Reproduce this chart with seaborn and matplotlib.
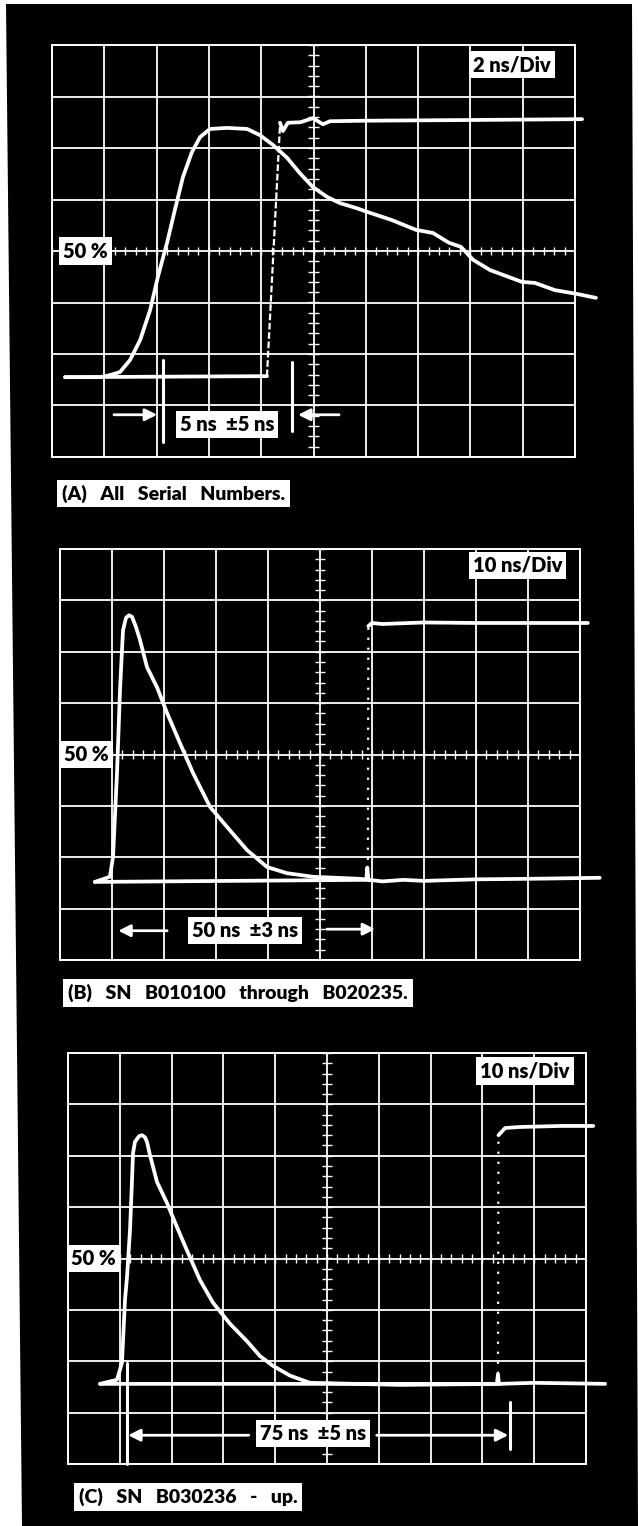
import numpy as np
import matplotlib
matplotlib.use("Agg")
import matplotlib.pyplot as plt
from matplotlib.patches import Polygon
import seaborn as sns

# ---------------- data (time in ns, amplitude in graticule divisions from 50% line) ----
# Panel A : 2 ns/Div
a_pulse_t = [0.5, 1.84, 2.22, 2.60, 2.98, 3.37, 3.75, 4.05, 4.40, 4.70, 5.01, 5.35, 5.66,
             6.04, 6.69, 7.46, 7.95, 8.45, 8.99, 9.48, 9.98, 10.52, 11.01, 11.66, 12.05,
             13.0, 13.92, 14.57, 15.18, 15.64, 16.1, 16.75, 17.97, 18.47, 19.23, 20.04,
             20.8]
a_pulse_v = [-2.45, -2.45, -2.41, -2.35, -2.12, -1.73, -1.15, -0.50, 0.16, 0.80, 1.44,
             1.92, 2.21, 2.37, 2.39, 2.37, 2.25, 2.06, 1.81, 1.51, 1.24, 1.05, 0.93, 0.83,
             0.76, 0.60, 0.41, 0.35, 0.16, 0.08, -0.17, -0.37, -0.60, -0.62, -0.76, -0.83,
             -0.91]
a_base_t = [0.5, 8.22]
a_base_v = [-2.45, -2.43]
a_edge_t = [8.22, 8.72]
a_edge_v = [-2.43, 2.45]
a_top_t = [8.72, 8.83, 9.02, 9.5, 9.98, 10.36, 10.63, 12.0, 15.0, 20.27]
a_top_v = [2.49, 2.33, 2.49, 2.50, 2.58, 2.46, 2.52, 2.53, 2.54, 2.56]

# Panel B : 10 ns/Div
b_pulse_t = [6.7, 9.6, 10.2, 10.96, 11.54, 11.92, 12.12, 12.69, 13.27, 13.85, 14.62,
             15.38, 16.73, 18.65, 20.58, 23.08, 25.58, 28.85, 32.12, 35.96, 39.81, 43.65,
             48.65, 57.69, 62.0, 66.0, 70.0, 80.0, 90.0, 103.8]
b_pulse_v = [-2.48, -2.38, -1.99, -0.36, 1.25, 2.03, 2.42, 2.66, 2.71, 2.68, 2.48, 2.23,
             1.70, 1.31, 0.81, 0.22, -0.36, -1.02, -1.41, -1.86, -2.19, -2.31, -2.38,
             -2.42, -2.47, -2.44, -2.46, -2.43, -2.42, -2.40]
b_base_t = [6.7, 58.9, 59.1, 59.3, 59.5]
b_base_v = [-2.48, -2.44, -2.20, -2.44, -2.45]
b_edge_t = [59.2, 59.3]
b_edge_v = [-2.44, 2.50]
b_top_t = [59.3, 60.0, 62.0, 70.0, 80.0, 90.0, 101.5]
b_top_v = [2.50, 2.56, 2.54, 2.57, 2.56, 2.56, 2.56]

# Panel C : 10 ns/Div
c_pulse_t = [6.2, 9.46, 10.42, 11.0, 11.39, 11.97, 12.36, 12.55, 12.93, 13.7, 14.29,
             14.86, 15.25, 15.83, 16.22, 17.18, 19.11, 21.04, 23.17, 25.48, 27.99, 31.27,
             34.56, 37.07, 39.58, 42.86, 46.72, 64.1, 83.4, 90.0, 103.7]
c_pulse_v = [-2.44, -2.36, -2.03, -0.81, -0.36, 0.55, 1.53, 2.05, 2.27, 2.38, 2.40, 2.36,
             2.27, 2.01, 1.86, 1.49, 1.08, 0.61, 0.11, -0.42, -0.86, -1.27, -1.61, -1.90,
             -2.09, -2.28, -2.42, -2.46, -2.44, -2.42, -2.44]
c_base_t = [6.2, 82.8, 83.0, 83.2, 83.4]
c_base_v = [-2.44, -2.44, -2.25, -2.44, -2.44]
c_edge_t = [83.0, 83.1]
c_edge_v = [-2.44, 2.40]
c_top_t = [83.1, 84.4, 87.3, 95.0, 101.4]
c_top_v = [2.40, 2.54, 2.56, 2.58, 2.58]

time_per_div = [2, 10, 10]
scale_labels = ["2 ns/Div", "10 ns/Div", "10 ns/Div"]
pct_label = "50 %"
span_labels = ["5 ns  \u00b15 ns", "50 ns  \u00b13 ns", "75 ns  \u00b15 ns"]
captions = ["(A)   All   Serial   Numbers.",
            "(B)   SN   B010100   through   B020235.",
            "(C)   SN   B030236   -   up."]

# annotation anchors (ns, div)
span_text_xy = [(6.7, -3.36), (35.5, -3.43), (47.3, -3.40)]
arrow_left = [((2.37, -3.18), (4.02, -3.18)),   # (tail, head)
              ((20.6, -3.43), (11.2, -3.43)),
              ((34.9, -3.44), (11.6, -3.44))]
arrow_right = [((10.98, -3.18), (9.41, -3.18)),
               ((51.3, -3.40), (60.6, -3.40)),
               ((59.6, -3.44), (85.0, -3.44))]
markers = [[(4.24, -2.12, -3.70), (9.18, -2.15, -3.50)],
           [],
           [(11.4, -2.03, -4.0), (85.3, -2.79, -3.71)]]
pct_x = [1.28, 5.1, 4.9]
scale_xy = [(17.6, 3.62), (88.0, 3.68), (88.2, 3.65)]

# ---------------- style ----
sns.set_theme(style="dark")
plt.rcParams["font.family"] = ["Lato", "DejaVu Sans"]
plt.rcParams["font.weight"] = "bold"

W, H = 638, 1526
fig = plt.figure(figsize=(W / 100, H / 100), dpi=100)
fig.patch.set_facecolor("white")
bg = Polygon([[6 / W, 1 - 4 / H], [632 / W, 1 - 4 / H], [638 / W, 0], [22 / W, 0]],
             closed=True, transform=fig.transFigure, facecolor="black",
             edgecolor="none", zorder=-10)
fig.patches.append(bg)

# axes rectangles in pixels: left, right, top, bottom
rects = [(52, 575, 45, 457), (60, 580, 549, 960), (68, 586, 1053, 1464)]
cap_rects = [(57, 480, 507), (63, 980, 1006), (74, 1483, 1511)]

pulses = [(a_pulse_t, a_pulse_v), (b_pulse_t, b_pulse_v), (c_pulse_t, c_pulse_v)]
bases = [(a_base_t, a_base_v), (b_base_t, b_base_v), (c_base_t, c_base_v)]
edges = [(a_edge_t, a_edge_v), (b_edge_t, b_edge_v), (c_edge_t, c_edge_v)]
tops = [(a_top_t, a_top_v), (b_top_t, b_top_v), (c_top_t, c_top_v)]
edge_styles = [(0, (3, 1.2)), (0, (1, 3.5)), (0, (1, 3.5))]

box = dict(boxstyle="square,pad=0.2", facecolor="white", edgecolor="none")
TR = 2.7
FS = 14.5

for i in range(3):
    l, r, t, b = rects[i]
    ax = fig.add_axes([l / W, 1 - b / H, (r - l) / W, (b - t) / H])
    ax.set_facecolor("black")
    nd = time_per_div[i]
    ax.set_xlim(0, 10 * nd)
    ax.set_ylim(-4, 4)
    ax.set_xticks(np.arange(0, 10 * nd + 0.001, nd))
    ax.set_yticks(np.arange(-4, 4.001, 1))
    ax.grid(True, color="white", linewidth=1.3)
    ax.tick_params(length=0, labelbottom=False, labelleft=False)
    for s in ax.spines.values():
        s.set_color("white")
        s.set_linewidth(1.4)
        s.set_visible(True)

    # graticule fine ticks on centre lines
    xc = 5 * nd
    ax.hlines(np.arange(-4, 4.001, 0.2), xc - 0.1 * nd, xc + 0.1 * nd,
              color="white", lw=1.0, zorder=2)
    ax.vlines(np.arange(0, 10 * nd + 0.001, 0.2 * nd), -0.08, 0.08,
              color="white", lw=1.0, zorder=2)

    # traces
    pt, pv = pulses[i]
    sns.lineplot(x=pt, y=pv, ax=ax, color="white", linewidth=TR, sort=False,
                 estimator=None, legend=False, zorder=4)
    bt, bv = bases[i]
    sns.lineplot(x=bt, y=bv, ax=ax, color="white", linewidth=TR, sort=False,
                 estimator=None, legend=False, zorder=4)
    et, ev = edges[i]
    sns.lineplot(x=et, y=ev, ax=ax, color="white", linewidth=1.6, sort=False,
                 estimator=None, legend=False, linestyle=edge_styles[i], zorder=4)
    tt, tv = tops[i]
    sns.lineplot(x=tt, y=tv, ax=ax, color="white", linewidth=TR, sort=False,
                 estimator=None, legend=False, zorder=4)
    for ln in ax.lines:
        ln.set_clip_on(False)
        ln.set_solid_capstyle("round")
        ln.set_solid_joinstyle("round")

    # markers
    for (mx, y0, y1) in markers[i]:
        ax.plot([mx, mx], [y0, y1], color="white", lw=2.2, clip_on=False, zorder=5)

    # arrows
    for (tail, head) in (arrow_left[i], arrow_right[i]):
        ax.annotate("", xy=head, xytext=tail,
                    arrowprops=dict(arrowstyle="-|>", color="white", lw=2.0,
                                    mutation_scale=18, shrinkA=0, shrinkB=0),
                    zorder=6)

    # labels
    ax.text(*span_text_xy[i], span_labels[i], ha="center", va="center",
            fontsize=FS, fontweight="heavy", color="black", bbox=box, zorder=8)
    ax.text(pct_x[i], 0, pct_label, ha="center", va="center", fontsize=FS,
            fontweight="heavy", color="black", bbox=box, zorder=8)
    ax.text(*scale_xy[i], scale_labels[i], ha="center", va="center", fontsize=FS,
            fontweight="heavy", color="black", bbox=box, zorder=8)

    cx, ct, cb = cap_rects[i]
    fig.text((cx + 5) / W, 1 - ((ct + cb) / 2) / H, captions[i], ha="left",
             va="center", fontsize=14, fontweight="heavy", color="black",
             bbox=dict(boxstyle="square,pad=0.25", facecolor="white", edgecolor="none"))

fig.savefig("out.png", dpi=100, facecolor=fig.get_facecolor())
